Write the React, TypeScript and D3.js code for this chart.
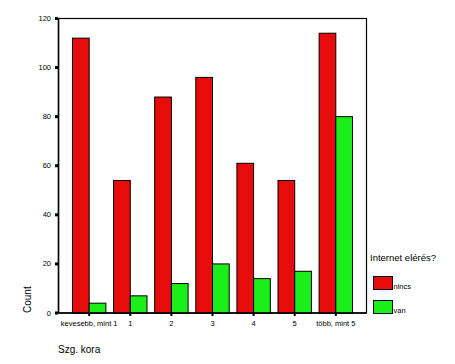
import React from 'react';
import { scaleBand, scaleLinear } from 'd3';

const categories = ['kevesebb, mint 1', '1', '2', '3', '4', '5', 'több, mint 5'];
const nincs = [112, 54, 88, 96, 61, 54, 114];
const van = [4, 7, 12, 20, 14, 17, 80];
const yTicks = [0, 20, 40, 60, 80, 100, 120];
const seriesNames = ['nincs', 'van'];
const colors = ['#e60c0c', '#1cee1c'];

const W = 455;
const H = 364;
const plot = { left: 58.5, top: 18.5, right: 366.5, bottom: 313 };

const App = () => {
  const x = scaleBand<string>()
    .domain(categories)
    .range([plot.left, plot.right])
    .paddingInner(0.187)
    .paddingOuter(0.34);
  const inner = scaleBand<string>()
    .domain(seriesNames)
    .range([0, x.bandwidth()]);
  const y = scaleLinear().domain([0, 120]).range([plot.bottom, plot.top]);

  const series = [nincs, van];
  const font = 'Arial, "Liberation Sans", sans-serif';

  return (
    <svg width={W} height={H} style={{ position: 'absolute', left: 0, top: 0, background: '#fff' }} fontFamily={font}>
      {/* frame */}
      <rect x={plot.left} y={plot.top} width={plot.right - plot.left} height={plot.bottom - plot.top}
        fill="none" stroke="#000" strokeWidth={1.2} />

      {/* bars */}
      {categories.map((c, i) => (
        <g key={c}>
          {series.map((s, k) => {
            const bx = (x(c) ?? 0) + (inner(seriesNames[k]) ?? 0);
            const by = y(s[i]);
            return (
              <rect key={k} x={bx} y={by} width={inner.bandwidth()} height={plot.bottom - by}
                fill={colors[k]} stroke="#000" strokeWidth={1} />
            );
          })}
        </g>
      ))}

      {/* y axis */}
      <line x1={plot.left} x2={plot.left} y1={plot.top} y2={plot.bottom} stroke="#000" strokeWidth={1.5} />
      {yTicks.map(t => (
        <g key={t}>
          <rect x={plot.left - 3.5} y={y(t) - 1.5} width={3} height={3} fill="#000" />
          <text x={51} y={y(t) + 2.5} textAnchor="end" fontSize={7.5}>{t}</text>
        </g>
      ))}

      {/* x axis */}
      <line x1={plot.left} x2={plot.right} y1={plot.bottom} y2={plot.bottom} stroke="#000" strokeWidth={1.5} />
      {categories.map(c => {
        const cx = (x(c) ?? 0) + x.bandwidth() / 2;
        return (
          <g key={c}>
            <rect x={cx - 1} y={plot.bottom} width={2} height={3} fill="#000" />
            <text x={cx} y={326} textAnchor="middle" fontSize={7.5}>{c}</text>
          </g>
        );
      })}

      {/* axis titles */}
      <text transform="translate(31,313) rotate(-90)" fontSize={10}>Count</text>
      <text x={58} y={353} fontSize={10}>Szg. kora</text>

      {/* legend */}
      <text x={370} y={261} fontSize={9.5}>Internet elérés?</text>
      {seriesNames.map((n, k) => (
        <g key={n} transform={`translate(373.5,${276.5 + k * 24})`}>
          <rect width={19} height={13} fill={colors[k]} stroke="#000" strokeWidth={1} />
          <text x={20} y={12.5} fontSize={7.5}>{n}</text>
        </g>
      ))}
    </svg>
  );
};

export default App;
